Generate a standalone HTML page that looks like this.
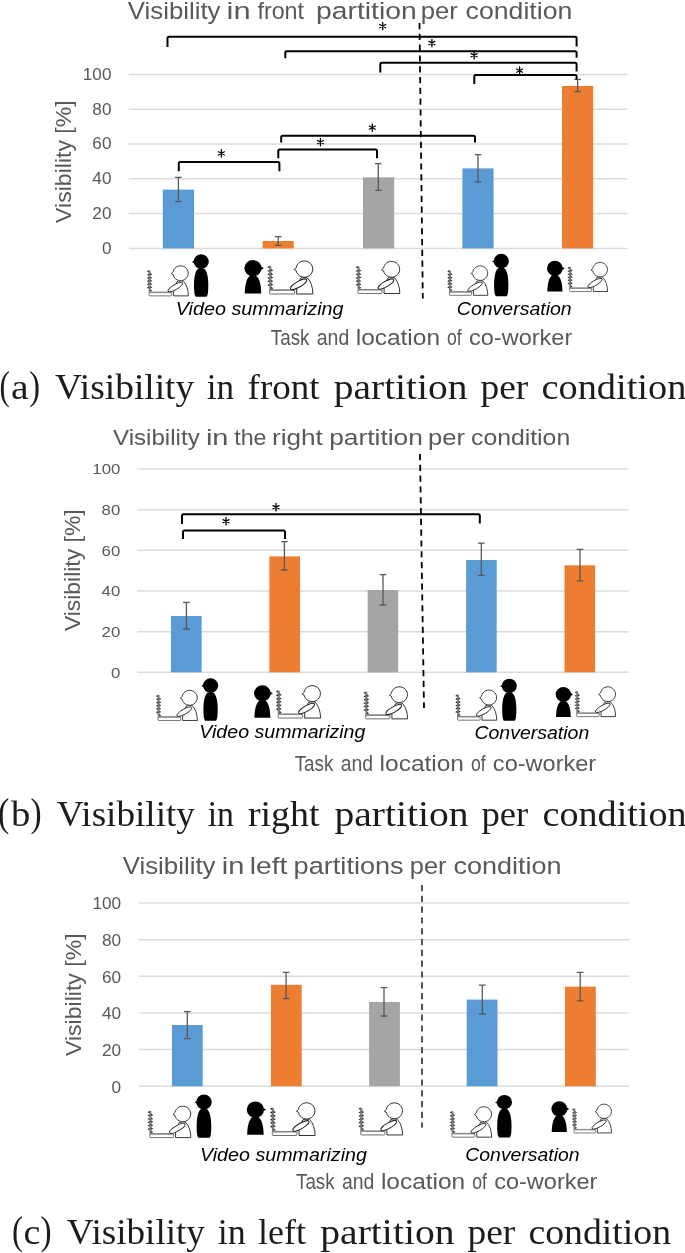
<!DOCTYPE html>
<html><head><meta charset="utf-8"><title>Visibility charts</title>
<style>html,body{margin:0;padding:0;background:#fff;}svg{display:block;will-change:transform;}</style></head>
<body>
<svg width="685" height="1253" viewBox="0 0 685 1253">
<rect width="685" height="1253" fill="#fff"/>

<defs>
<g id="worker">
  <rect x="-1.0" y="0" width="2.0" height="24.6" fill="#7a7a7a"/>
  <path d="M-0.8,-0.50L-3.0,1.30L-0.8,2.30ZM-0.8,3.20L-3.0,5.00L-0.8,6.00ZM-0.8,6.80L-3.0,8.60L-0.8,9.60ZM-0.8,10.40L-3.0,12.20L-0.8,13.20ZM-0.8,13.60L-3.0,15.40L-0.8,16.40ZM-0.8,17.40L-3.0,19.20L-0.8,20.20ZM0.8,2.70L3.0,4.50L0.8,5.50ZM0.8,6.50L3.0,8.30L0.8,9.30ZM0.8,9.80L3.0,11.60L0.8,12.60ZM0.8,13.50L3.0,15.30L0.8,16.30ZM0.8,17.00L3.0,18.80L0.8,19.80ZM0.8,20.60L3.0,22.40L0.8,23.40Z" fill="#333"/>
  <rect x="-0.6" y="23.9" width="24.9" height="4.1" rx="0.8" fill="#fff" stroke="#6a6a6a" stroke-width="1.0"/>
  <line x1="-0.6" y1="24.4" x2="24.3" y2="24.4" stroke="#8a8a8a" stroke-width="1.2"/>
  <path d="M30.2,12.2C33,11.2 35.5,11.3 37.2,11.9C40.6,15.5 42.6,21.5 42.6,28.0H26.4V22.5Z" fill="#fff" stroke="#222" stroke-width="0.95"/>
  <ellipse cx="28.3" cy="18.3" rx="9.3" ry="2.8" transform="rotate(-30 28.3 18.3)" fill="#fff" stroke="#222" stroke-width="0.95"/>
  <path d="M25.8,1.6A8.4,8.2 0 1,1 25.8,4.6L23.8,3.6Z" fill="#fff" stroke="#222" stroke-width="0.95"/>
</g>
<g id="stand">
  <ellipse cx="0" cy="0" rx="7.6" ry="7.3" fill="#000"/>
  <path d="M-7.0,-0.9L-9.4,0.4L-6.9,1.6Z" fill="#000"/>
  <path d="M-2.9,7.0C-6.0,9.2 -7.2,16 -7.2,24C-7.2,30 -6.7,34 -5.4,35.2H5.4C6.6,34 7.1,30 7.1,24C7.1,16 5.9,9.2 2.7,7.0C1.0,6.5 -1.2,6.5 -2.9,7.0Z" fill="#000"/>
</g>
<g id="seat">
  <ellipse cx="0" cy="0.3" rx="8.6" ry="8.2" fill="#000"/>
  <path d="M8.0,-1.4L10.8,0.3L7.9,2.0Z" fill="#000"/>
  <path d="M-3.4,8.0C-6.6,11 -8.1,17 -8.2,25.4H8.2C8.1,17 6.6,11 3.4,8.0C1.6,7.3 -1.6,7.3 -3.4,8.0Z" fill="#000"/>
</g>
</defs>

<line x1="128.80" y1="248.40" x2="627.40" y2="248.40" stroke="#dbdbdb" stroke-width="1.5"/>
<text x="101.93" y="253.85" font-size="15.8" textLength="9.58" lengthAdjust="spacingAndGlyphs" fill="#595959" style="font-family:'Liberation Sans', sans-serif">0</text>
<line x1="128.80" y1="213.60" x2="627.40" y2="213.60" stroke="#dbdbdb" stroke-width="1.5"/>
<text x="92.37" y="219.05" font-size="15.8" textLength="19.16" lengthAdjust="spacingAndGlyphs" fill="#595959" style="font-family:'Liberation Sans', sans-serif">20</text>
<line x1="128.80" y1="178.80" x2="627.40" y2="178.80" stroke="#dbdbdb" stroke-width="1.5"/>
<text x="92.37" y="184.25" font-size="15.8" textLength="19.16" lengthAdjust="spacingAndGlyphs" fill="#595959" style="font-family:'Liberation Sans', sans-serif">40</text>
<line x1="128.80" y1="144.00" x2="627.40" y2="144.00" stroke="#dbdbdb" stroke-width="1.5"/>
<text x="92.37" y="149.45" font-size="15.8" textLength="19.16" lengthAdjust="spacingAndGlyphs" fill="#595959" style="font-family:'Liberation Sans', sans-serif">60</text>
<line x1="128.80" y1="109.20" x2="627.40" y2="109.20" stroke="#dbdbdb" stroke-width="1.5"/>
<text x="92.37" y="114.65" font-size="15.8" textLength="19.16" lengthAdjust="spacingAndGlyphs" fill="#595959" style="font-family:'Liberation Sans', sans-serif">80</text>
<line x1="128.80" y1="74.40" x2="627.40" y2="74.40" stroke="#dbdbdb" stroke-width="1.5"/>
<text x="82.81" y="79.85" font-size="15.8" textLength="28.74" lengthAdjust="spacingAndGlyphs" fill="#595959" style="font-family:'Liberation Sans', sans-serif">100</text>
<rect x="162.80" y="189.60" width="31.20" height="58.80" fill="#5b9bd5"/>
<rect x="262.60" y="241.00" width="31.20" height="7.40" fill="#ed7d31"/>
<rect x="363.00" y="177.30" width="31.20" height="71.10" fill="#a5a5a5"/>
<rect x="462.40" y="168.40" width="31.20" height="80.00" fill="#5b9bd5"/>
<rect x="562.00" y="86.00" width="31.20" height="162.40" fill="#ed7d31"/>
<path d="M178.40,177.30V201.60M175.10,177.30H181.70M175.10,201.60H181.70" stroke="#595959" stroke-width="1.3" fill="none"/>
<path d="M278.20,236.60V245.30M274.90,236.60H281.50M274.90,245.30H281.50" stroke="#595959" stroke-width="1.3" fill="none"/>
<path d="M378.30,163.60V190.30M375.00,163.60H381.60M375.00,190.30H381.60" stroke="#595959" stroke-width="1.3" fill="none"/>
<path d="M478.00,154.60V182.00M474.70,154.60H481.30M474.70,182.00H481.30" stroke="#595959" stroke-width="1.3" fill="none"/>
<path d="M577.60,79.40V91.60M574.30,79.40H580.90M574.30,91.60H580.90" stroke="#595959" stroke-width="1.3" fill="none"/>
<path d="M167.50,46.90V38.30Q167.50,36.80 169.00,36.80H575.10Q576.60,36.80 576.60,38.30V46.60" stroke="#000" stroke-width="2.0" fill="none" stroke-linecap="butt"/>
<path d="M285.30,58.20V52.70Q285.30,51.20 286.80,51.20H575.10Q576.60,51.20 576.60,52.70V57.80" stroke="#000" stroke-width="2.0" fill="none" stroke-linecap="butt"/>
<path d="M380.30,72.60V64.30Q380.30,62.80 381.80,62.80H575.10Q576.60,62.80 576.60,64.30V71.50" stroke="#000" stroke-width="2.0" fill="none" stroke-linecap="butt"/>
<path d="M474.30,84.00V76.50Q474.30,75.00 475.80,75.00H575.10Q576.60,75.00 576.60,76.50V79.60" stroke="#000" stroke-width="2.0" fill="none" stroke-linecap="butt"/>
<path d="M281.20,142.40V137.20Q281.20,135.70 282.70,135.70H473.50Q475.00,135.70 475.00,137.20V142.40" stroke="#000" stroke-width="2.0" fill="none" stroke-linecap="butt"/>
<path d="M278.30,158.30V151.00Q278.30,149.50 279.80,149.50H375.50Q377.00,149.50 377.00,151.00V158.30" stroke="#000" stroke-width="2.0" fill="none" stroke-linecap="butt"/>
<path d="M178.80,171.30V163.50Q178.80,162.00 180.30,162.00H277.90Q279.40,162.00 279.40,163.50V171.30" stroke="#000" stroke-width="2.0" fill="none" stroke-linecap="butt"/>
<path d="M382.70,22.40V29.80M379.75,24.50L385.65,27.70M379.75,27.70L385.65,24.50" stroke="#000" stroke-width="1.3" stroke-linecap="round" fill="none"/>
<path d="M431.90,39.30V46.70M428.95,41.40L434.85,44.60M428.95,44.60L434.85,41.40" stroke="#000" stroke-width="1.3" stroke-linecap="round" fill="none"/>
<path d="M474.10,51.50V58.90M471.15,53.60L477.05,56.80M471.15,56.80L477.05,53.60" stroke="#000" stroke-width="1.3" stroke-linecap="round" fill="none"/>
<path d="M519.60,66.90V74.30M516.65,69.00L522.55,72.20M516.65,72.20L522.55,69.00" stroke="#000" stroke-width="1.3" stroke-linecap="round" fill="none"/>
<path d="M372.30,123.90V131.30M369.35,126.00L375.25,129.20M369.35,129.20L375.25,126.00" stroke="#000" stroke-width="1.3" stroke-linecap="round" fill="none"/>
<path d="M320.40,138.40V145.80M317.45,140.50L323.35,143.70M317.45,143.70L323.35,140.50" stroke="#000" stroke-width="1.3" stroke-linecap="round" fill="none"/>
<path d="M221.40,149.70V157.10M218.45,151.80L224.35,155.00M218.45,155.00L224.35,151.80" stroke="#000" stroke-width="1.3" stroke-linecap="round" fill="none"/>
<line x1="419.5" y1="23.0" x2="422.8" y2="298.5" stroke="#000" stroke-width="1.8" stroke-dasharray="6.2 4.6"/>
<use href="#worker" transform="translate(149.60,270.40) scale(0.910)"/>
<use href="#worker" transform="translate(270.30,266.00) scale(1.000)"/>
<use href="#worker" transform="translate(358.50,266.30) scale(0.970)"/>
<use href="#worker" transform="translate(449.90,270.40) scale(0.890)"/>
<use href="#worker" transform="translate(570.10,266.90) scale(0.880)"/>
<use href="#stand" transform="translate(201.20,261.60) scale(1.000)"/>
<use href="#stand" transform="translate(501.30,261.10) scale(1.000)"/>
<use href="#seat" transform="translate(253.00,268.00) scale(1.000)"/>
<use href="#seat" transform="translate(554.90,268.10) scale(0.920)"/>
<text x="127.87" y="19.40" font-size="24.3" textLength="92.63" lengthAdjust="spacingAndGlyphs" fill="#595959" style="font-family:'Liberation Sans', sans-serif;" >Visibility</text>
<text x="226.59" y="19.40" font-size="24.3" textLength="24.01" lengthAdjust="spacingAndGlyphs" fill="#595959" style="font-family:'Liberation Sans', sans-serif;" >in</text>
<text x="257.45" y="19.40" font-size="24.3" textLength="46.59" lengthAdjust="spacingAndGlyphs" fill="#595959" style="font-family:'Liberation Sans', sans-serif;" >front</text>
<text x="316.06" y="19.40" font-size="24.3" textLength="100.66" lengthAdjust="spacingAndGlyphs" fill="#595959" style="font-family:'Liberation Sans', sans-serif;" >partition</text>
<text x="420.83" y="19.40" font-size="24.3" textLength="37.09" lengthAdjust="spacingAndGlyphs" fill="#595959" style="font-family:'Liberation Sans', sans-serif;" >per</text>
<text x="465.63" y="19.40" font-size="24.3" textLength="106.68" lengthAdjust="spacingAndGlyphs" fill="#595959" style="font-family:'Liberation Sans', sans-serif;" >condition</text>
<text transform="translate(70.60,222.80) rotate(-90)" x="-0.12" y="0" font-size="21.6" textLength="122.56" lengthAdjust="spacingAndGlyphs" fill="#595959" style="font-family:'Liberation Sans', sans-serif">Visibility [%]</text>
<text x="175.72" y="314.70" font-size="18.0" textLength="167.89" lengthAdjust="spacingAndGlyphs" fill="#000" style="font-family:'Liberation Sans', sans-serif;font-style:italic;" >Video summarizing</text>
<text x="456.83" y="315.00" font-size="18.0" textLength="114.89" lengthAdjust="spacingAndGlyphs" fill="#000" style="font-family:'Liberation Sans', sans-serif;font-style:italic;" >Conversation</text>
<text x="270.82" y="344.60" font-size="22.0" textLength="38.60" lengthAdjust="spacingAndGlyphs" fill="#595959" style="font-family:'Liberation Sans', sans-serif;" >Task</text>
<text x="316.82" y="344.60" font-size="22.0" textLength="32.41" lengthAdjust="spacingAndGlyphs" fill="#595959" style="font-family:'Liberation Sans', sans-serif;" >and</text>
<text x="355.71" y="344.60" font-size="22.0" textLength="84.33" lengthAdjust="spacingAndGlyphs" fill="#595959" style="font-family:'Liberation Sans', sans-serif;" >location</text>
<text x="447.00" y="344.60" font-size="22.0" textLength="14.69" lengthAdjust="spacingAndGlyphs" fill="#595959" style="font-family:'Liberation Sans', sans-serif;" >of</text>
<text x="468.96" y="344.60" font-size="22.0" textLength="103.31" lengthAdjust="spacingAndGlyphs" fill="#595959" style="font-family:'Liberation Sans', sans-serif;" >co-worker</text>
<text x="-0.49" y="399.20" font-size="39" textLength="10.32" lengthAdjust="spacingAndGlyphs" fill="#1c1c1c" style="font-family:'Liberation Serif', serif;" >(</text>
<text x="10.91" y="399.20" font-size="35" textLength="17.64" lengthAdjust="spacingAndGlyphs" fill="#1c1c1c" style="font-family:'Liberation Serif', serif;" >a</text>
<text x="29.13" y="399.20" font-size="39" textLength="10.76" lengthAdjust="spacingAndGlyphs" fill="#1c1c1c" style="font-family:'Liberation Serif', serif;" >)</text>
<text x="55.03" y="399.20" font-size="35" textLength="139.19" lengthAdjust="spacingAndGlyphs" fill="#1c1c1c" style="font-family:'Liberation Serif', serif;" >Visibility</text>
<text x="206.70" y="399.20" font-size="35" textLength="27.35" lengthAdjust="spacingAndGlyphs" fill="#1c1c1c" style="font-family:'Liberation Serif', serif;" >in</text>
<text x="247.59" y="399.20" font-size="35" textLength="71.94" lengthAdjust="spacingAndGlyphs" fill="#1c1c1c" style="font-family:'Liberation Serif', serif;" >front</text>
<text x="333.71" y="399.20" font-size="35" textLength="133.81" lengthAdjust="spacingAndGlyphs" fill="#1c1c1c" style="font-family:'Liberation Serif', serif;" >partition</text>
<text x="480.44" y="399.20" font-size="35" textLength="47.82" lengthAdjust="spacingAndGlyphs" fill="#1c1c1c" style="font-family:'Liberation Serif', serif;" >per</text>
<text x="541.47" y="399.20" font-size="35" textLength="144.90" lengthAdjust="spacingAndGlyphs" fill="#1c1c1c" style="font-family:'Liberation Serif', serif;" >condition</text>
<line x1="137.00" y1="672.30" x2="628.70" y2="672.30" stroke="#dbdbdb" stroke-width="1.5"/>
<text x="110.96" y="677.61" font-size="15.4" textLength="9.34" lengthAdjust="spacingAndGlyphs" fill="#595959" style="font-family:'Liberation Sans', sans-serif">0</text>
<line x1="137.00" y1="631.64" x2="628.70" y2="631.64" stroke="#dbdbdb" stroke-width="1.5"/>
<text x="101.64" y="636.95" font-size="15.4" textLength="18.67" lengthAdjust="spacingAndGlyphs" fill="#595959" style="font-family:'Liberation Sans', sans-serif">20</text>
<line x1="137.00" y1="590.98" x2="628.70" y2="590.98" stroke="#dbdbdb" stroke-width="1.5"/>
<text x="101.64" y="596.29" font-size="15.4" textLength="18.67" lengthAdjust="spacingAndGlyphs" fill="#595959" style="font-family:'Liberation Sans', sans-serif">40</text>
<line x1="137.00" y1="550.32" x2="628.70" y2="550.32" stroke="#dbdbdb" stroke-width="1.5"/>
<text x="101.64" y="555.63" font-size="15.4" textLength="18.67" lengthAdjust="spacingAndGlyphs" fill="#595959" style="font-family:'Liberation Sans', sans-serif">60</text>
<line x1="137.00" y1="509.66" x2="628.70" y2="509.66" stroke="#dbdbdb" stroke-width="1.5"/>
<text x="101.64" y="514.97" font-size="15.4" textLength="18.67" lengthAdjust="spacingAndGlyphs" fill="#595959" style="font-family:'Liberation Sans', sans-serif">80</text>
<line x1="137.00" y1="469.00" x2="628.70" y2="469.00" stroke="#dbdbdb" stroke-width="1.5"/>
<text x="92.32" y="474.31" font-size="15.4" textLength="28.01" lengthAdjust="spacingAndGlyphs" fill="#595959" style="font-family:'Liberation Sans', sans-serif">100</text>
<rect x="171.00" y="616.00" width="30.60" height="56.30" fill="#5b9bd5"/>
<rect x="269.40" y="556.40" width="30.60" height="115.90" fill="#ed7d31"/>
<rect x="367.60" y="590.00" width="30.60" height="82.30" fill="#a5a5a5"/>
<rect x="466.10" y="560.00" width="30.60" height="112.30" fill="#5b9bd5"/>
<rect x="564.50" y="565.30" width="30.60" height="107.00" fill="#ed7d31"/>
<path d="M186.40,602.40V629.00M183.10,602.40H189.70M183.10,629.00H189.70" stroke="#595959" stroke-width="1.3" fill="none"/>
<path d="M284.40,541.60V570.00M281.10,541.60H287.70M281.10,570.00H287.70" stroke="#595959" stroke-width="1.3" fill="none"/>
<path d="M383.00,574.60V605.00M379.70,574.60H386.30M379.70,605.00H386.30" stroke="#595959" stroke-width="1.3" fill="none"/>
<path d="M481.30,543.10V575.30M478.00,543.10H484.60M478.00,575.30H484.60" stroke="#595959" stroke-width="1.3" fill="none"/>
<path d="M580.00,549.30V580.80M576.70,549.30H583.30M576.70,580.80H583.30" stroke="#595959" stroke-width="1.3" fill="none"/>
<path d="M183.00,539.00V531.90Q183.00,530.40 184.50,530.40H283.50Q285.00,530.40 285.00,531.90V539.00" stroke="#000" stroke-width="2.0" fill="none" stroke-linecap="butt"/>
<path d="M182.00,524.00V515.70Q182.00,514.20 183.50,514.20H478.30Q479.80,514.20 479.80,515.70V523.60" stroke="#000" stroke-width="2.0" fill="none" stroke-linecap="butt"/>
<path d="M226.00,517.50V524.90M223.05,519.60L228.95,522.80M223.05,522.80L228.95,519.60" stroke="#000" stroke-width="1.3" stroke-linecap="round" fill="none"/>
<path d="M276.00,503.50V510.90M273.05,505.60L278.95,508.80M273.05,508.80L278.95,505.60" stroke="#000" stroke-width="1.3" stroke-linecap="round" fill="none"/>
<line x1="420.0" y1="454.0" x2="424.0" y2="708.0" stroke="#000" stroke-width="1.8" stroke-dasharray="6.2 4.6"/>
<use href="#worker" transform="translate(158.60,695.00) scale(0.910)"/>
<use href="#worker" transform="translate(278.80,690.60) scale(0.980)"/>
<use href="#worker" transform="translate(366.30,691.70) scale(0.970)"/>
<use href="#worker" transform="translate(458.00,694.70) scale(0.910)"/>
<use href="#worker" transform="translate(577.30,691.40) scale(0.900)"/>
<use href="#stand" transform="translate(210.60,685.60) scale(1.000)"/>
<use href="#stand" transform="translate(509.30,685.90) scale(0.990)"/>
<use href="#seat" transform="translate(262.40,693.00) scale(0.970)"/>
<use href="#seat" transform="translate(563.40,694.20) scale(0.900)"/>
<text x="113.08" y="445.00" font-size="22.8" textLength="86.61" lengthAdjust="spacingAndGlyphs" fill="#595959" style="font-family:'Liberation Sans', sans-serif;" >Visibility</text>
<text x="205.92" y="445.00" font-size="22.8" textLength="22.57" lengthAdjust="spacingAndGlyphs" fill="#595959" style="font-family:'Liberation Sans', sans-serif;" >in</text>
<text x="234.25" y="445.00" font-size="22.8" textLength="32.30" lengthAdjust="spacingAndGlyphs" fill="#595959" style="font-family:'Liberation Sans', sans-serif;" >the</text>
<text x="272.00" y="445.00" font-size="22.8" textLength="50.84" lengthAdjust="spacingAndGlyphs" fill="#595959" style="font-family:'Liberation Sans', sans-serif;" >right</text>
<text x="329.19" y="445.00" font-size="22.8" textLength="93.70" lengthAdjust="spacingAndGlyphs" fill="#595959" style="font-family:'Liberation Sans', sans-serif;" >partition</text>
<text x="428.14" y="445.00" font-size="22.8" textLength="36.98" lengthAdjust="spacingAndGlyphs" fill="#595959" style="font-family:'Liberation Sans', sans-serif;" >per</text>
<text x="471.01" y="445.00" font-size="22.8" textLength="99.18" lengthAdjust="spacingAndGlyphs" fill="#595959" style="font-family:'Liberation Sans', sans-serif;" >condition</text>
<text transform="translate(79.60,631.00) rotate(-90)" x="-0.11" y="0" font-size="21.5" textLength="121.75" lengthAdjust="spacingAndGlyphs" fill="#595959" style="font-family:'Liberation Sans', sans-serif">Visibility [%]</text>
<text x="199.34" y="738.20" font-size="18.0" textLength="166.07" lengthAdjust="spacingAndGlyphs" fill="#000" style="font-family:'Liberation Sans', sans-serif;font-style:italic;" >Video summarizing</text>
<text x="474.43" y="738.60" font-size="18.0" textLength="114.89" lengthAdjust="spacingAndGlyphs" fill="#000" style="font-family:'Liberation Sans', sans-serif;font-style:italic;" >Conversation</text>
<text x="294.72" y="770.60" font-size="22.0" textLength="38.60" lengthAdjust="spacingAndGlyphs" fill="#595959" style="font-family:'Liberation Sans', sans-serif;" >Task</text>
<text x="340.72" y="770.60" font-size="22.0" textLength="32.41" lengthAdjust="spacingAndGlyphs" fill="#595959" style="font-family:'Liberation Sans', sans-serif;" >and</text>
<text x="379.61" y="770.60" font-size="22.0" textLength="84.33" lengthAdjust="spacingAndGlyphs" fill="#595959" style="font-family:'Liberation Sans', sans-serif;" >location</text>
<text x="470.90" y="770.60" font-size="22.0" textLength="14.69" lengthAdjust="spacingAndGlyphs" fill="#595959" style="font-family:'Liberation Sans', sans-serif;" >of</text>
<text x="492.86" y="770.60" font-size="22.0" textLength="103.31" lengthAdjust="spacingAndGlyphs" fill="#595959" style="font-family:'Liberation Sans', sans-serif;" >co-worker</text>
<text x="-2.04" y="825.80" font-size="39" textLength="11.36" lengthAdjust="spacingAndGlyphs" fill="#1c1c1c" style="font-family:'Liberation Serif', serif;" >(</text>
<text x="11.10" y="825.80" font-size="35" textLength="19.35" lengthAdjust="spacingAndGlyphs" fill="#1c1c1c" style="font-family:'Liberation Serif', serif;" >b</text>
<text x="30.60" y="825.80" font-size="39" textLength="11.14" lengthAdjust="spacingAndGlyphs" fill="#1c1c1c" style="font-family:'Liberation Serif', serif;" >)</text>
<text x="56.73" y="825.80" font-size="35" textLength="138.19" lengthAdjust="spacingAndGlyphs" fill="#1c1c1c" style="font-family:'Liberation Serif', serif;" >Visibility</text>
<text x="207.72" y="825.80" font-size="35" textLength="26.31" lengthAdjust="spacingAndGlyphs" fill="#1c1c1c" style="font-family:'Liberation Serif', serif;" >in</text>
<text x="247.94" y="825.80" font-size="35" textLength="71.59" lengthAdjust="spacingAndGlyphs" fill="#1c1c1c" style="font-family:'Liberation Serif', serif;" >right</text>
<text x="334.41" y="825.80" font-size="35" textLength="134.11" lengthAdjust="spacingAndGlyphs" fill="#1c1c1c" style="font-family:'Liberation Serif', serif;" >partition</text>
<text x="481.45" y="825.80" font-size="35" textLength="46.80" lengthAdjust="spacingAndGlyphs" fill="#1c1c1c" style="font-family:'Liberation Serif', serif;" >per</text>
<text x="542.47" y="825.80" font-size="35" textLength="144.19" lengthAdjust="spacingAndGlyphs" fill="#1c1c1c" style="font-family:'Liberation Serif', serif;" >condition</text>
<line x1="139.00" y1="1086.20" x2="629.10" y2="1086.20" stroke="#dbdbdb" stroke-width="1.5"/>
<text x="111.53" y="1092.55" font-size="15.8" textLength="9.58" lengthAdjust="spacingAndGlyphs" fill="#595959" style="font-family:'Liberation Sans', sans-serif">0</text>
<line x1="139.00" y1="1049.56" x2="629.10" y2="1049.56" stroke="#dbdbdb" stroke-width="1.5"/>
<text x="101.97" y="1055.91" font-size="15.8" textLength="19.16" lengthAdjust="spacingAndGlyphs" fill="#595959" style="font-family:'Liberation Sans', sans-serif">20</text>
<line x1="139.00" y1="1012.92" x2="629.10" y2="1012.92" stroke="#dbdbdb" stroke-width="1.5"/>
<text x="101.97" y="1019.27" font-size="15.8" textLength="19.16" lengthAdjust="spacingAndGlyphs" fill="#595959" style="font-family:'Liberation Sans', sans-serif">40</text>
<line x1="139.00" y1="976.28" x2="629.10" y2="976.28" stroke="#dbdbdb" stroke-width="1.5"/>
<text x="101.97" y="982.63" font-size="15.8" textLength="19.16" lengthAdjust="spacingAndGlyphs" fill="#595959" style="font-family:'Liberation Sans', sans-serif">60</text>
<line x1="139.00" y1="939.64" x2="629.10" y2="939.64" stroke="#dbdbdb" stroke-width="1.5"/>
<text x="101.97" y="945.99" font-size="15.8" textLength="19.16" lengthAdjust="spacingAndGlyphs" fill="#595959" style="font-family:'Liberation Sans', sans-serif">80</text>
<line x1="139.00" y1="903.00" x2="629.10" y2="903.00" stroke="#dbdbdb" stroke-width="1.5"/>
<text x="92.41" y="909.35" font-size="15.8" textLength="28.74" lengthAdjust="spacingAndGlyphs" fill="#595959" style="font-family:'Liberation Sans', sans-serif">100</text>
<rect x="171.90" y="1025.00" width="30.80" height="61.20" fill="#5b9bd5"/>
<rect x="270.90" y="984.80" width="30.80" height="101.40" fill="#ed7d31"/>
<rect x="369.10" y="1002.00" width="30.80" height="84.20" fill="#a5a5a5"/>
<rect x="466.70" y="999.60" width="30.80" height="86.60" fill="#5b9bd5"/>
<rect x="565.00" y="986.70" width="30.80" height="99.50" fill="#ed7d31"/>
<path d="M187.30,1011.60V1038.70M184.00,1011.60H190.60M184.00,1038.70H190.60" stroke="#595959" stroke-width="1.3" fill="none"/>
<path d="M286.10,972.40V998.50M282.80,972.40H289.40M282.80,998.50H289.40" stroke="#595959" stroke-width="1.3" fill="none"/>
<path d="M384.00,987.70V1016.00M380.70,987.70H387.30M380.70,1016.00H387.30" stroke="#595959" stroke-width="1.3" fill="none"/>
<path d="M482.30,985.20V1014.00M479.00,985.20H485.60M479.00,1014.00H485.60" stroke="#595959" stroke-width="1.3" fill="none"/>
<path d="M580.20,972.30V1000.90M576.90,972.30H583.50M576.90,1000.90H583.50" stroke="#595959" stroke-width="1.3" fill="none"/>
<line x1="422.0" y1="885.0" x2="422.0" y2="1127.5" stroke="#404040" stroke-width="1.8" stroke-dasharray="6.2 4.6"/>
<use href="#worker" transform="translate(150.40,1111.00) scale(0.950)"/>
<use href="#worker" transform="translate(272.90,1107.80) scale(0.990)"/>
<use href="#worker" transform="translate(361.30,1107.80) scale(0.970)"/>
<use href="#worker" transform="translate(452.50,1111.40) scale(0.920)"/>
<use href="#worker" transform="translate(574.50,1108.60) scale(0.870)"/>
<use href="#stand" transform="translate(204.00,1101.90) scale(1.020)"/>
<use href="#stand" transform="translate(504.40,1102.20) scale(1.000)"/>
<use href="#seat" transform="translate(255.40,1109.30) scale(1.000)"/>
<use href="#seat" transform="translate(559.30,1108.60) scale(0.920)"/>
<text x="122.67" y="873.50" font-size="24.3" textLength="92.83" lengthAdjust="spacingAndGlyphs" fill="#595959" style="font-family:'Liberation Sans', sans-serif;" >Visibility</text>
<text x="221.72" y="873.50" font-size="24.3" textLength="22.57" lengthAdjust="spacingAndGlyphs" fill="#595959" style="font-family:'Liberation Sans', sans-serif;" >in</text>
<text x="249.87" y="873.50" font-size="24.3" textLength="37.58" lengthAdjust="spacingAndGlyphs" fill="#595959" style="font-family:'Liberation Sans', sans-serif;" >left</text>
<text x="293.64" y="873.50" font-size="24.3" textLength="110.05" lengthAdjust="spacingAndGlyphs" fill="#595959" style="font-family:'Liberation Sans', sans-serif;" >partitions</text>
<text x="409.85" y="873.50" font-size="24.3" textLength="36.67" lengthAdjust="spacingAndGlyphs" fill="#595959" style="font-family:'Liberation Sans', sans-serif;" >per</text>
<text x="453.52" y="873.50" font-size="24.3" textLength="108.12" lengthAdjust="spacingAndGlyphs" fill="#595959" style="font-family:'Liberation Sans', sans-serif;" >condition</text>
<text transform="translate(80.90,1056.00) rotate(-90)" x="-0.12" y="0" font-size="21.5" textLength="122.77" lengthAdjust="spacingAndGlyphs" fill="#595959" style="font-family:'Liberation Sans', sans-serif">Visibility [%]</text>
<text x="199.93" y="1160.50" font-size="18.0" textLength="167.08" lengthAdjust="spacingAndGlyphs" fill="#000" style="font-family:'Liberation Sans', sans-serif;font-style:italic;" >Video summarizing</text>
<text x="465.33" y="1161.30" font-size="18.0" textLength="114.28" lengthAdjust="spacingAndGlyphs" fill="#000" style="font-family:'Liberation Sans', sans-serif;font-style:italic;" >Conversation</text>
<text x="296.02" y="1188.60" font-size="22.0" textLength="38.60" lengthAdjust="spacingAndGlyphs" fill="#595959" style="font-family:'Liberation Sans', sans-serif;" >Task</text>
<text x="342.02" y="1188.60" font-size="22.0" textLength="32.41" lengthAdjust="spacingAndGlyphs" fill="#595959" style="font-family:'Liberation Sans', sans-serif;" >and</text>
<text x="380.91" y="1188.60" font-size="22.0" textLength="84.33" lengthAdjust="spacingAndGlyphs" fill="#595959" style="font-family:'Liberation Sans', sans-serif;" >location</text>
<text x="472.20" y="1188.60" font-size="22.0" textLength="14.69" lengthAdjust="spacingAndGlyphs" fill="#595959" style="font-family:'Liberation Sans', sans-serif;" >of</text>
<text x="494.16" y="1188.60" font-size="22.0" textLength="103.31" lengthAdjust="spacingAndGlyphs" fill="#595959" style="font-family:'Liberation Sans', sans-serif;" >co-worker</text>
<text x="12.12" y="1243.80" font-size="39" textLength="10.97" lengthAdjust="spacingAndGlyphs" fill="#1c1c1c" style="font-family:'Liberation Serif', serif;" >(</text>
<text x="23.49" y="1243.80" font-size="35" textLength="16.81" lengthAdjust="spacingAndGlyphs" fill="#1c1c1c" style="font-family:'Liberation Serif', serif;" >c</text>
<text x="40.40" y="1243.80" font-size="39" textLength="11.14" lengthAdjust="spacingAndGlyphs" fill="#1c1c1c" style="font-family:'Liberation Serif', serif;" >)</text>
<text x="66.83" y="1243.80" font-size="35" textLength="138.09" lengthAdjust="spacingAndGlyphs" fill="#1c1c1c" style="font-family:'Liberation Serif', serif;" >Visibility</text>
<text x="217.78" y="1243.80" font-size="35" textLength="27.98" lengthAdjust="spacingAndGlyphs" fill="#1c1c1c" style="font-family:'Liberation Serif', serif;" >in</text>
<text x="258.08" y="1243.80" font-size="35" textLength="47.99" lengthAdjust="spacingAndGlyphs" fill="#1c1c1c" style="font-family:'Liberation Serif', serif;" >left</text>
<text x="320.31" y="1243.80" font-size="35" textLength="134.21" lengthAdjust="spacingAndGlyphs" fill="#1c1c1c" style="font-family:'Liberation Serif', serif;" >partition</text>
<text x="467.44" y="1243.80" font-size="35" textLength="47.82" lengthAdjust="spacingAndGlyphs" fill="#1c1c1c" style="font-family:'Liberation Serif', serif;" >per</text>
<text x="528.49" y="1243.80" font-size="35" textLength="142.56" lengthAdjust="spacingAndGlyphs" fill="#1c1c1c" style="font-family:'Liberation Serif', serif;" >condition</text>
</svg>
</body></html>
